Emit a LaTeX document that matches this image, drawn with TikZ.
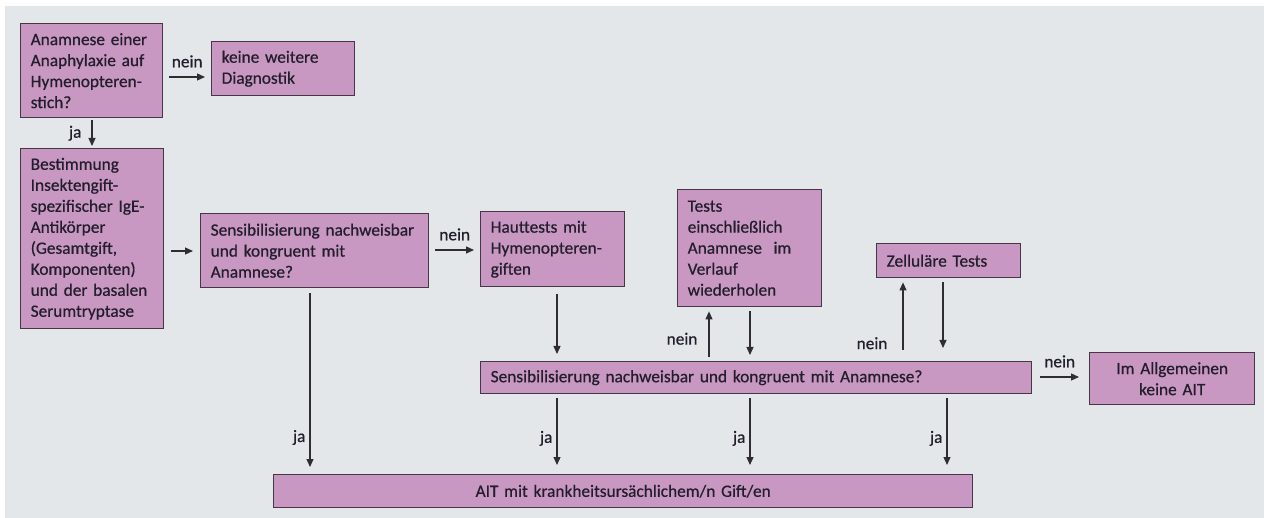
\documentclass[tikz,border=0pt]{standalone}
\usepackage{fontspec}
\setmainfont{Carlito}
\newfontfamily\cfont{Carlito}[FakeBold=0.6]
\usetikzlibrary{arrows.meta}
\definecolor{bg}{RGB}{228,231,233}
\definecolor{boxfill}{RGB}{201,152,194}
\definecolor{boxline}{RGB}{70,55,70}
\definecolor{txt}{RGB}{35,30,45}
\definecolor{arr}{RGB}{45,45,50}
\tikzset{
  box/.style={draw=boxline, line width=1.4pt, fill=boxfill, text=txt, rectangle,
    inner xsep=10pt, inner ysep=0pt, align=left, anchor=north west,
    font=\cfont\fontsize{17.3}{21}\selectfont},
  cbox/.style={box, align=center},
  conn/.style={draw=arr, line width=1.2pt, -{Triangle[length=8pt,width=7pt]}},
  lab/.style={text=txt, font=\cfont\fontsize{17.3}{21}\selectfont, inner sep=0pt}
}
\begin{document}
\begin{tikzpicture}[x=1pt,y=-1pt]
\useasboundingbox (0,0) rectangle (1264,518);
\fill[white] (0,0) rectangle (1264,518);
\fill[bg] (5,6) rectangle (1264,518);

\node[box, text width=122pt, minimum width=142pt, minimum height=94pt] (A) at (20,23)
  {Anamnese einer\\Anaphylaxie auf\\Hymenopteren-\\stich?};
\node[box, text width=123pt, minimum width=143pt, minimum height=54pt] (K) at (211,41)
  {keine weitere\\Diagnostik};
\node[box, text width=123pt, minimum width=143pt, minimum height=180pt] (B) at (20,148)
  {Bestimmung\\Insektengift-\\spezifischer IgE-\\Antikörper\\(Gesamtgift,\\Komponenten)\\und der basalen\\Serumtryptase};
\node[box, text width=208pt, minimum width=228pt, minimum height=74pt] (C) at (200,213)
  {Sensibilisierung nachweisbar\\und kongruent mit\\Anamnese?};
\node[box, text width=124pt, minimum width=144pt, minimum height=75pt] (D) at (480,211)
  {Hauttests mit\\Hymenopteren-\\giften};
\node[box, text width=124pt, minimum width=144pt, minimum height=117pt] (E) at (677,189)
  {Tests\\einschließlich\\Anamnese\ \ im\\Verlauf\\wiederholen};
\node[box, text width=124pt, minimum width=144pt, minimum height=34pt] (F) at (876,243)
  {Zelluläre Tests};
\node[box, text width=531pt, minimum width=551pt, minimum height=32pt] (G) at (480,361)
  {Sensibilisierung nachweisbar und kongruent mit Anamnese?};
\node[cbox, text width=145pt, minimum width=165pt, minimum height=52pt] (H) at (1089,352)
  {Im Allgemeinen\\keine AIT};
\node[cbox, text width=679pt, minimum width=699pt, minimum height=33pt] (I) at (273,474)
  {AIT mit krankheitsursächlichem/n Gift/en};

% connectors (yshift is on the canvas: positive = up on the page)
\draw[conn] ([xshift=6pt]A.east|-0,77) -- node[lab, above=9pt]{nein} ([xshift=-6pt]K.west|-0,77);
\draw[conn] ([yshift=-2pt]A.south-|92,0) -- node[lab, left=10pt]{ja} ([yshift=2pt]B.north-|92,0);
\draw[conn] ([xshift=7pt]B.east|-0,251) -- ([xshift=-7pt]C.west|-0,251);
\draw[conn] ([xshift=6pt]C.east|-0,250) -- node[lab, above=9pt]{nein} ([xshift=-6pt]D.west|-0,250);
\draw[conn] ([yshift=-5pt]C.south-|310,0) -- node[lab, pos=0.83, left=4pt]{ja} ([yshift=7pt]I.north-|310,0);
\draw[conn] ([yshift=-7pt]D.south-|557,0) -- ([yshift=7pt]G.north-|557,0);
\draw[conn] ([yshift=4pt]G.north-|709,0) -- node[lab, pos=0.4, left=11pt]{nein} ([yshift=-4pt]E.south-|709,0);
\draw[conn] ([yshift=-4pt]E.south-|750,0) -- ([yshift=6pt]G.north-|750,0);
\draw[conn] ([yshift=11pt]G.north-|903,0) -- node[lab, pos=0.1, left=15pt]{nein} ([yshift=-4pt]F.south-|903,0);
\draw[conn] ([yshift=-4pt]F.south-|943,0) -- ([yshift=13pt]G.north-|943,0);
\draw[conn] ([xshift=8pt]G.east|-0,377) -- node[lab, above=9pt]{nein} ([xshift=-10pt]H.west|-0,377);
\draw[conn] ([yshift=-4pt]G.south-|557,0) -- node[lab, pos=0.6, left=4pt]{ja} ([yshift=9pt]I.north-|557,0);
\draw[conn] ([yshift=-4pt]G.south-|750,0) -- node[lab, pos=0.6, left=4pt]{ja} ([yshift=9pt]I.north-|750,0);
\draw[conn] ([yshift=-4pt]G.south-|947,0) -- node[lab, pos=0.6, left=4pt]{ja} ([yshift=9pt]I.north-|947,0);
\end{tikzpicture}
\end{document}
